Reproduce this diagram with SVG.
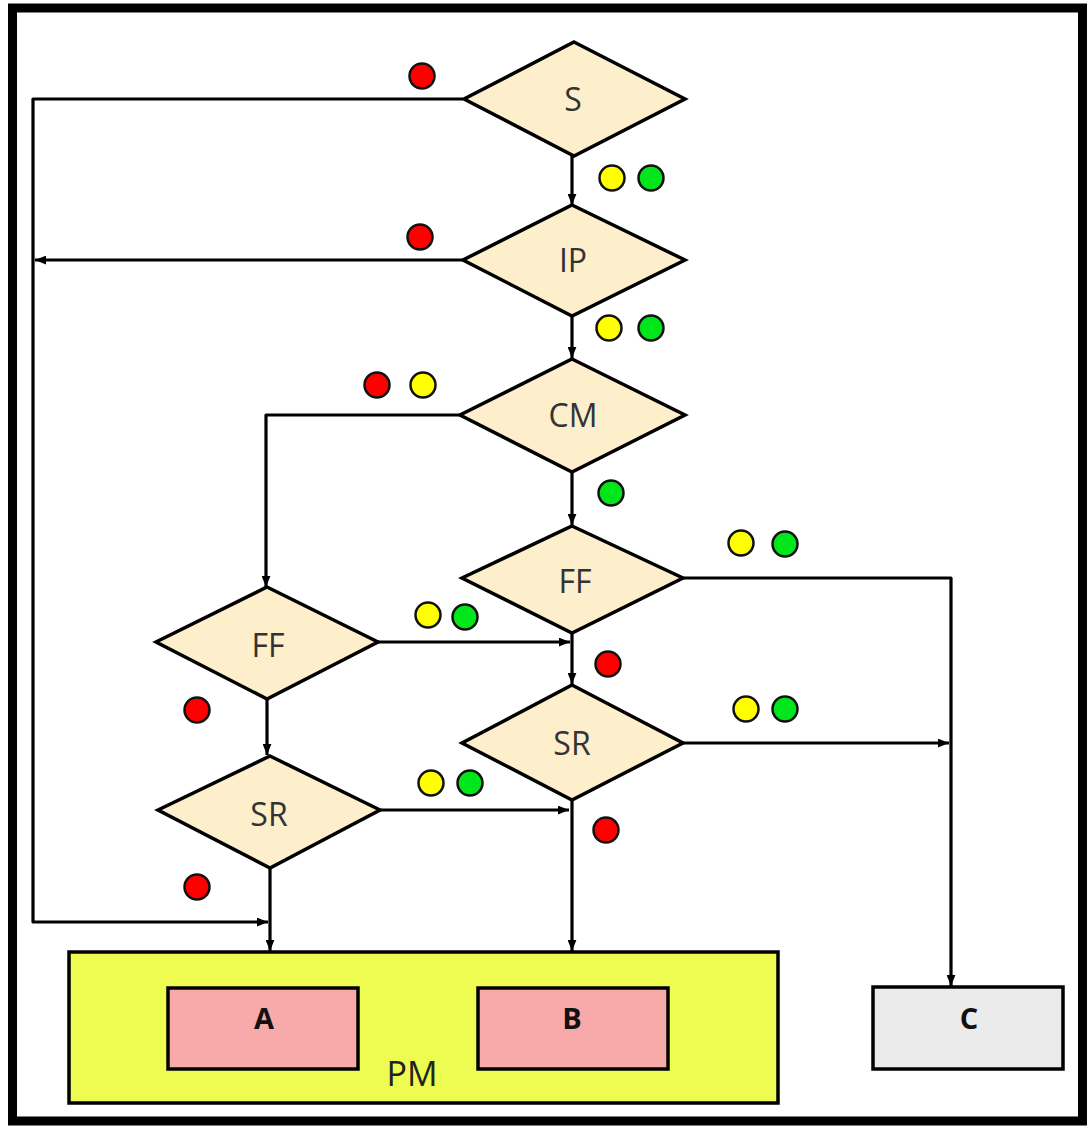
<svg xmlns="http://www.w3.org/2000/svg" width="1087" height="1126" viewBox="0 0 1087 1126">
<style>
.dia{fill:#fdefcb;stroke:#000;stroke-width:3.5;stroke-linejoin:miter}
.lbl{font-family:"Open Sans","Liberation Sans",sans-serif;font-size:32px;fill:#333;text-anchor:middle}
.blbl{font-family:"Open Sans","Liberation Sans",sans-serif;font-size:29px;font-weight:bold;fill:#111;text-anchor:middle}
.con{fill:none;stroke:#000;stroke-width:3.2;stroke-linejoin:round}
.r{fill:#ff0000;stroke:#111;stroke-width:2.5}
.y{fill:#ffff00;stroke:#111;stroke-width:2.5}
.g{fill:#00e61a;stroke:#111;stroke-width:2.5}
</style>
<defs>
<marker id="ah" viewBox="0 0 10 8" refX="10" refY="4" markerWidth="11" markerHeight="9" orient="auto" markerUnits="userSpaceOnUse"><path d="M0,0 L10,4 L0,8 z" fill="#000"/></marker>
</defs>
<rect x="0" y="0" width="1087" height="1126" fill="#fff"/>
<rect id="frame" x="12.5" y="8" width="1070" height="1113" fill="none" stroke="#000" stroke-width="9"/>

<g id="connectors">
<path class="con" d="M463,99 H33 V922 H268" marker-end="url(#ah)"/>
<path class="con" d="M572,156 V205" marker-end="url(#ah)"/>
<path class="con" d="M463,260 H35" marker-end="url(#ah)"/>
<path class="con" d="M572,316 V358" marker-end="url(#ah)"/>
<path class="con" d="M460,415 H266 V587" marker-end="url(#ah)"/>
<path class="con" d="M572,472 V525" marker-end="url(#ah)"/>
<path class="con" d="M683,578 H951 V986" marker-end="url(#ah)"/>
<path class="con" d="M378,642 H570" marker-end="url(#ah)"/>
<path class="con" d="M572,633 V684" marker-end="url(#ah)"/>
<path class="con" d="M267,700 V755" marker-end="url(#ah)"/>
<path class="con" d="M683,743 H949" marker-end="url(#ah)"/>
<path class="con" d="M380,810 H569" marker-end="url(#ah)"/>
<path class="con" d="M572,800 V951" marker-end="url(#ah)"/>
<path class="con" d="M270,868 V951" marker-end="url(#ah)"/>
</g>

<g id="S"><polygon class="dia" points="574,42 685,99 574,156 464,99"/><text class="lbl" x="573" y="111">S</text></g>
<g id="IP"><polygon class="dia" points="572,205 685,260 572,316 463,260"/><text class="lbl" x="573" y="272">IP</text></g>
<g id="CM"><polygon class="dia" points="572,359 685,415 572,472 460,415"/><text class="lbl" x="573" y="427">CM</text></g>
<g id="FF1"><polygon class="dia" points="572,526 683,578 572,633 462,578"/><text class="lbl" x="575" y="593">FF</text></g>
<g id="FF2"><polygon class="dia" points="267,587 378,642 267,699 156,642"/><text class="lbl" x="268" y="657">FF</text></g>
<g id="SR1"><polygon class="dia" points="572,685 683,743 572,800 462,743"/><text class="lbl" x="572" y="755">SR</text></g>
<g id="SR2"><polygon class="dia" points="270,756 380,810 270,868 158,810"/><text class="lbl" x="269" y="826">SR</text></g>

<g id="PM">
<rect x="69" y="952" width="709" height="151" fill="#eefc52" stroke="#000" stroke-width="3.5"/>
<text x="412" y="1086" font-family="'Open Sans','Liberation Sans',sans-serif" font-size="34" fill="#222" text-anchor="middle">PM</text>
</g>
<g id="A"><rect x="168" y="988" width="190" height="81" fill="#f8aaaa" stroke="#000" stroke-width="3.5"/><text class="blbl" x="264" y="1029">A</text></g>
<g id="B"><rect x="478" y="988" width="190" height="81" fill="#f8aaaa" stroke="#000" stroke-width="3.5"/><text class="blbl" x="572" y="1029">B</text></g>
<g id="C"><rect x="873" y="987" width="190" height="82" fill="#ebebeb" stroke="#000" stroke-width="3.5"/><text class="blbl" x="969" y="1029">C</text></g>

<g id="dots">
<circle class="r" cx="422" cy="76" r="12.5"/>
<circle class="y" cx="612" cy="178" r="12.5"/><circle class="g" cx="651" cy="178" r="12.5"/>
<circle class="r" cx="420" cy="237" r="12.5"/>
<circle class="y" cx="609" cy="328" r="12.5"/><circle class="g" cx="651" cy="328" r="12.5"/>
<circle class="r" cx="377" cy="385" r="12.5"/><circle class="y" cx="423" cy="385" r="12.5"/>
<circle class="g" cx="611" cy="493" r="12.5"/>
<circle class="y" cx="741" cy="543" r="12.5"/><circle class="g" cx="785" cy="544" r="12.5"/>
<circle class="y" cx="428" cy="615" r="12.5"/><circle class="g" cx="465" cy="617" r="12.5"/>
<circle class="r" cx="608" cy="664" r="12.5"/>
<circle class="r" cx="197" cy="710" r="12.5"/>
<circle class="y" cx="746" cy="709" r="12.5"/><circle class="g" cx="785" cy="709" r="12.5"/>
<circle class="y" cx="431" cy="783" r="12.5"/><circle class="g" cx="470" cy="783" r="12.5"/>
<circle class="r" cx="606" cy="830" r="12.5"/>
<circle class="r" cx="197" cy="887" r="12.5"/>
</g>
</svg>
